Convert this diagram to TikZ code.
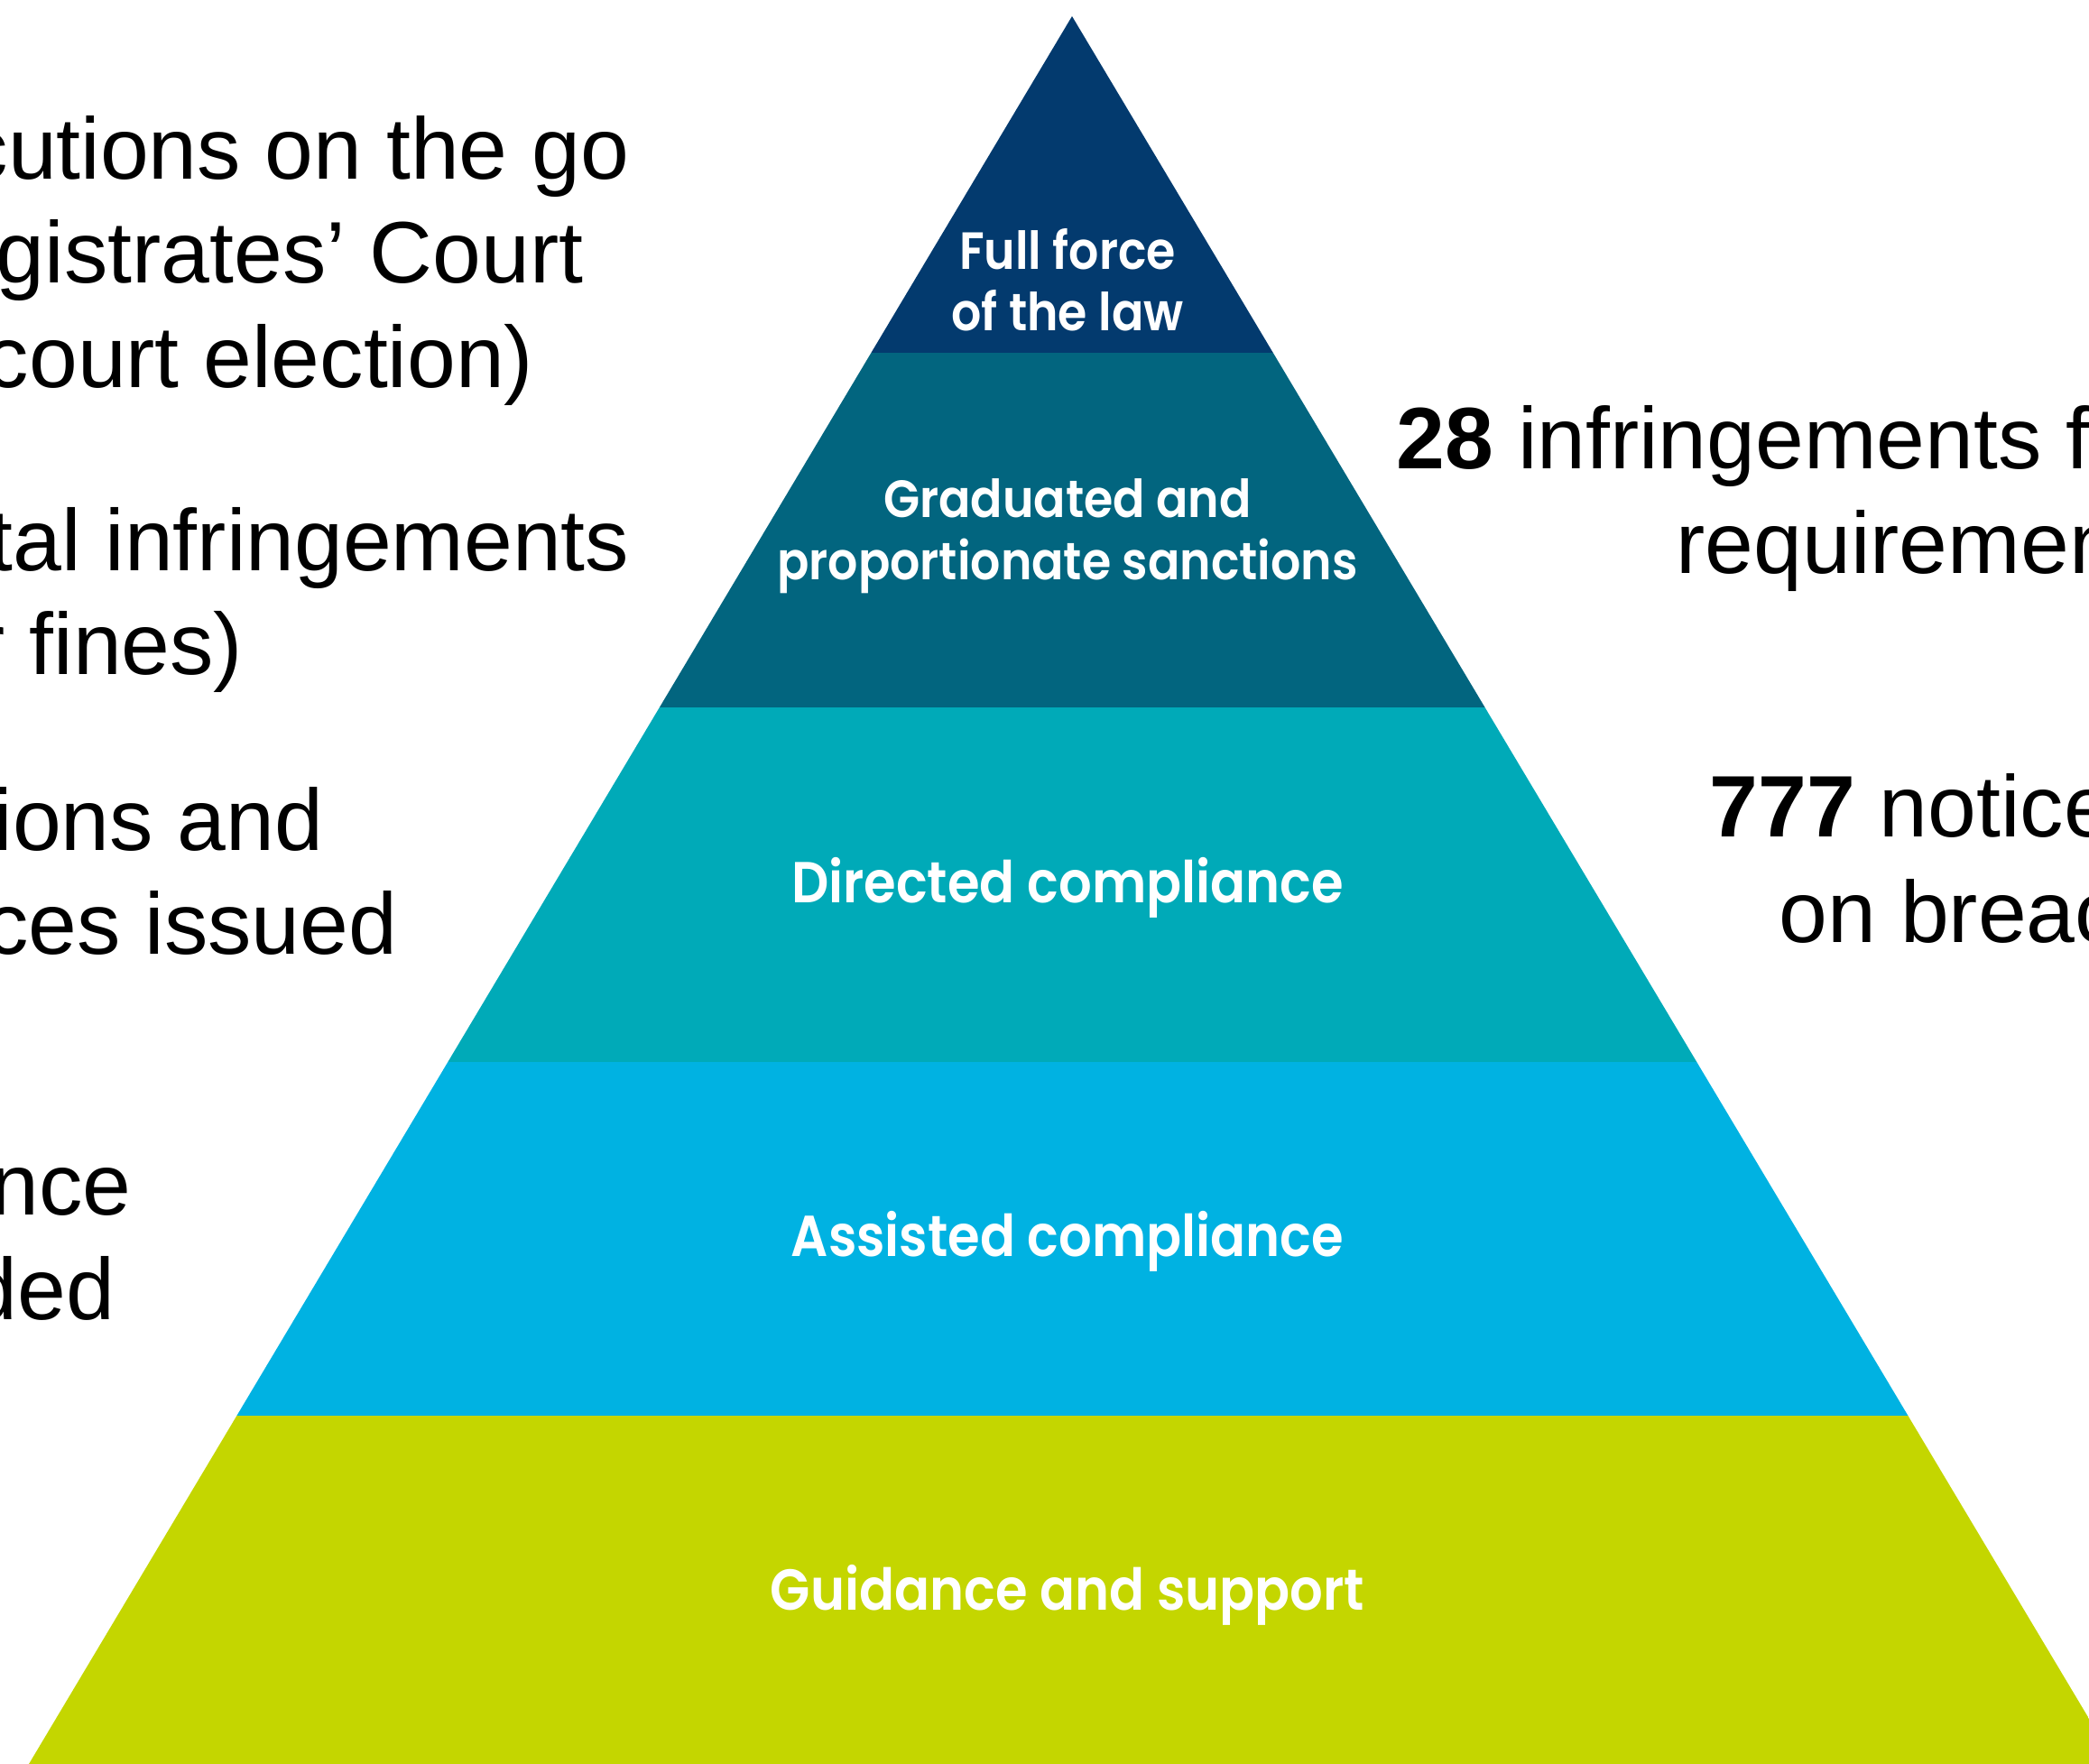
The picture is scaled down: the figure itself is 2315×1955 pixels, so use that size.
\documentclass[tikz,border=0pt]{standalone}
\usepackage{fontspec}
\setmainfont{Liberation Sans}
\newfontfamily\labfont{Poppins SemiBold}
\definecolor{cA}{HTML}{033A6E}
\definecolor{cB}{HTML}{02657F}
\definecolor{cC}{HTML}{00AAB8}
\definecolor{cD}{HTML}{00B2E2}
\definecolor{cE}{HTML}{C4D600}
\tikzset{
  side/.style={inner sep=0pt, font=\fontsize{27.5}{33}\selectfont, text=black},
  sideR/.style={side, anchor=base east},
  sideL/.style={side, anchor=base west},
  lab/.style={inner sep=0pt, align=center, text=white, font=\labfont\fontsize{16.5}{19.5}\selectfont},
  labbig/.style={lab, font=\labfont\fontsize{18.2}{21}\selectfont}
}
\newcommand{\sq}[1]{\scalebox{0.9}[1]{#1}}
\begin{document}
\begin{tikzpicture}[x=0.01cm, y=-0.01cm]
\useasboundingbox (0,0) rectangle (2315,1955);
\clip (0,0) rectangle (2315,1955);
% pyramid bands
\begin{scope}
  \clip (1188,18) -- (32,1955) -- (2345,1955) -- cycle;
  \fill[cA] (0,0) rectangle (2400,391);
  \fill[cB] (0,391) rectangle (2400,784);
  \fill[cC] (0,784) rectangle (2400,1177);
  \fill[cD] (0,1177) rectangle (2400,1569);
  \fill[cE] (0,1569) rectangle (2400,1960);
\end{scope}
% band labels
\node[lab] (l1) at (1183,310) {\sq{Full force}\\\sq{of the law}};
\node[lab] (l2) at (1183,594) {\sq{Graduated and}\\\sq{proportionate sanctions}};
\node[labbig] (l3) at (1183,984) {\sq{Directed compliance}};
\node[labbig] (l4) at (1183,1376) {\sq{Assisted compliance}};
\node[labbig] (l5) at (1183,1768) {\sq{Guidance and support}};
% left texts
\node[sideR] (t1) at (698,199) {cutions on the go};
\node[sideR] (t2) at (647,314) {agistrates’ Court};
\node[sideR] (t3) at (592,430) {court election)};
\node[sideR] (t4) at (698,632) {tal infringements};
\node[sideR] (t5) at (270,747) {r fines)};
\node[sideR] (t6) at (359,942) {ions and};
\node[sideR] (t7) at (441,1057) {ces issued};
\node[sideR] (t8) at (146,1346) {nce};
\node[sideR] (t9) at (128,1462) {ded};
% right texts
\node[sideL] (r1) at (1547,520) {\textbf{28} infringements for};
\node[sideL] (r2) at (1857,635) {requirements};
\node[sideL] (r3) at (1894,927) {\textbf{777} notices};
\node[sideL] (r4) at (1971,1044) {on breach};
\end{tikzpicture}
\end{document}
